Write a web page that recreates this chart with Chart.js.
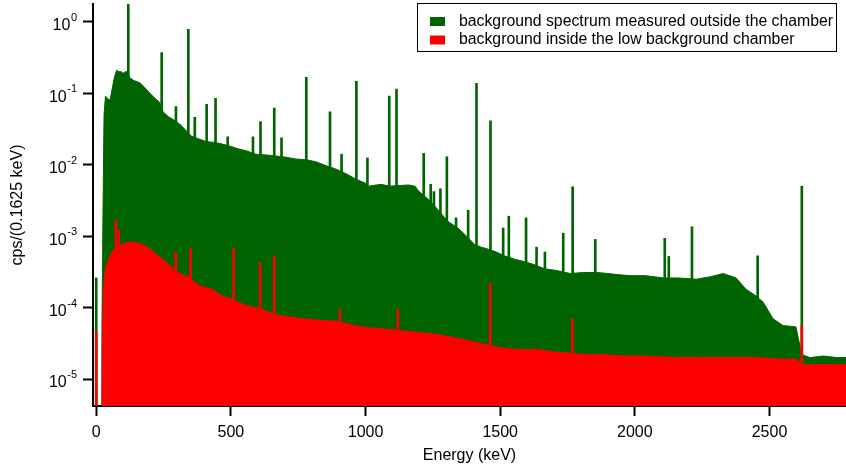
<!DOCTYPE html>
<html>
<head>
<meta charset="utf-8">
<script src="https://cdn.jsdelivr.net/npm/chart.js@4.4.0/dist/chart.umd.min.js"></script>
<style>
  body { margin: 0; background: #fff; }
  #wrap { width: 846px; height: 468px; }
</style>
</head>
<body>
<div id="wrap"><canvas id="spectrumChart" width="846" height="468"></canvas></div>
<script>
// continuum outside the chamber (keV, cps per channel)
const outsideEnergy = [20, 21, 25, 29, 34, 40, 47, 52, 60, 68, 76, 84, 92, 100, 110, 118, 124, 140, 162, 180,
    199, 218, 236, 243, 250, 268, 285, 310, 330, 354, 380, 409, 440, 469, 500, 531, 560, 593, 630, 667,
    700, 741, 780, 815, 850, 889, 930, 963, 1000, 1011, 1040, 1059, 1090, 1122, 1160, 1184, 1196, 1220, 1244, 1275,
    1306, 1343, 1375, 1406, 1430, 1454, 1485, 1516, 1550, 1590, 1625, 1664, 1710, 1760, 1810, 1860, 1900, 1934, 1982, 2040,
    2107, 2160, 2229, 2280, 2328, 2376, 2413, 2445, 2476, 2513, 2550, 2598, 2620, 2650, 2700, 2750, 2784];
const outsideCps = [4.3e-6, 4e-5, 2e-3, 0.05, 0.09, 0.087, 0.08, 0.083, 0.12, 0.17, 0.21, 0.2, 0.2, 0.19, 0.2, 0.2, 0.165, 0.15, 0.14, 0.12,
    0.10, 0.085, 0.074, 0.06, 0.054, 0.047, 0.043, 0.037, 0.031, 0.025, 0.023, 0.021, 0.0205, 0.0194, 0.018, 0.0165, 0.0155, 0.014, 0.0137, 0.0132,
    0.0128, 0.012, 0.0117, 0.011, 0.0098, 0.0087, 0.0074, 0.0063, 0.0055, 0.005, 0.0052, 0.0053, 0.005, 0.0051, 0.0052, 0.005, 0.0043, 0.0036, 0.003, 0.0022,
    0.0016, 0.0013, 0.001, 0.00076, 0.0007, 0.00066, 0.0006, 0.00053, 0.00048, 0.00044, 0.0004, 0.00035, 0.00033, 0.0003, 0.00031, 0.00031, 0.0003, 0.00029, 0.00028, 0.00028,
    0.00026, 0.00026, 0.00025, 0.00027, 0.0003, 0.00026, 0.00018, 0.00015, 0.00012, 0.00007, 0.000056, 0.000054, 0.000022, 0.00002, 0.000021, 0.00002, 0.00002];

// continuum inside the low background chamber
const insideEnergy = [21, 23, 27, 32, 37, 44, 52, 62, 75, 89, 105, 125, 145, 162, 180, 199, 218, 236, 255, 273,
    290, 310, 330, 347, 365, 384, 410, 432, 460, 494, 525, 557, 590, 616, 645, 679, 720, 764, 800, 838,
    880, 926, 970, 1022, 1080, 1147, 1200, 1269, 1330, 1391, 1450, 1516, 1580, 1638, 1700, 1760, 1820, 1886, 1950, 2050,
    2150, 2250, 2350, 2450, 2550, 2600, 2620, 2700, 2784];
const insideCps = [4.3e-6, 3e-5, 0.00018, 0.0003, 0.00038, 0.00045, 0.00054, 0.00062, 0.0007, 0.00074, 0.0008, 0.00083, 0.00081, 0.00079, 0.00073, 0.00067, 0.00058, 0.00051, 0.00045, 0.00039,
    0.00034, 0.0003, 0.00028, 0.00026, 0.00023, 0.0002, 0.00019, 0.00018, 0.00015, 0.000135, 0.00012, 0.000107, 0.0001, 0.000095, 0.000085, 0.000078, 0.000074, 0.00007, 0.000068, 0.000066,
    0.000065, 0.00006, 0.000055, 0.000052, 0.00005, 0.000047, 0.000045, 0.000042, 0.000038, 0.000034, 0.00003, 0.000027, 0.000026, 0.000026, 0.000024, 0.000023, 0.000022, 0.000022, 0.000021, 0.000021,
    0.00002, 0.00002, 0.00002, 0.00002, 0.000019, 0.000019, 0.000016, 0.000016, 0.000016];

// gamma lines sticking out of the continuum
const outsidePeakEnergy = [0, 119, 243, 296, 342, 366, 410, 443, 488, 582, 610, 661, 688, 780, 868, 911, 966, 1007, 1088, 1115,
    1216, 1242, 1254, 1278, 1302, 1336, 1381, 1412, 1464, 1511, 1532, 1596, 1635, 1666, 1734, 1769, 1853, 2111, 2126, 2212,
    2456, 2620];
const outsidePeakCps = [0.00026, 1.9, 0.37, 0.065, 0.78, 0.046, 0.07, 0.085, 0.0245, 0.0245, 0.04, 0.062, 0.0237, 0.167, 0.055, 0.014, 0.146, 0.0124, 0.091, 0.114,
    0.0144, 0.0053, 0.0042, 0.0046, 0.0129, 0.0018, 0.0023, 0.137, 0.041, 0.0013, 0.0019, 0.0018, 0.0007, 0.0006, 0.0011, 0.0049, 0.0009, 0.00093, 0.00052, 0.00135,
    0.00053, 0.005];
const insidePeakEnergy = [0, 73, 84, 295, 350, 510, 609, 661, 905, 1120, 1463, 1768, 2620];
const insidePeakCps = [0.000046, 0.00166, 0.0012, 0.0006, 0.00068, 0.00068, 0.00043, 0.00053, 0.000095, 0.000095, 0.00022, 0.00007, 0.000056];

const xTickValues = [0, 500, 1000, 1500, 2000, 2500];
const yTickValues = [1e-5, 1e-4, 1e-3, 1e-2, 1e-1, 1];

const xMin = -12, xMax = 2784;
const yMin = 4.2e-6, yMax = 1.77;

const FONT = "'Liberation Sans', Arial, sans-serif";
const GREEN = '#006400';
const RED = '#ff0000';

function toPoints(xs, ys) {
    return xs.map((x, i) => ({ x: x, y: ys[i] }));
}
function toSticks(xs, ys) {
    return xs.map((x, i) => ({ x: x, y: [yMin, ys[i]] }));
}

// y labels as 10 with a raised exponent
const powerLabels = {
    id: 'powerLabels',
    afterDraw(chart) {
        const ctx = chart.ctx;
        const yScale = chart.scales.y;
        const right = 77;
        ctx.save();
        ctx.fillStyle = '#000';
        ctx.textBaseline = 'middle';
        ctx.textAlign = 'right';
        yTickValues.forEach(v => {
            const y = yScale.getPixelForValue(v);
            const exp = String(Math.round(Math.log10(v)));
            ctx.font = '11px ' + FONT;
            ctx.fillText(exp, right, y - 4);
            const w = ctx.measureText(exp).width;
            ctx.font = '16px ' + FONT;
            ctx.fillText('10', right - w - 0.5, y + 4);
        });
        ctx.restore();
    }
};

// boxed legend in the top right corner
const boxLegend = {
    id: 'boxLegend',
    afterDraw(chart) {
        const ctx = chart.ctx;
        const entries = [chart.data.datasets[0], chart.data.datasets[2]];
        ctx.save();
        ctx.fillStyle = '#fff';
        ctx.fillRect(417, 3, 420, 49);
        ctx.strokeStyle = '#000';
        ctx.lineWidth = 1;
        ctx.strokeRect(417.5, 3.5, 419, 48);
        ctx.font = '15.8px ' + FONT;
        ctx.textBaseline = 'middle';
        ctx.textAlign = 'left';
        entries.forEach((ds, i) => {
            const y = 21.5 + i * 18.5;
            ctx.fillStyle = ds.backgroundColor;
            ctx.fillRect(430, y - 4.5, 15, 9);
            ctx.fillStyle = '#000';
            ctx.fillText(ds.label, 459, y);
        });
        ctx.restore();
    }
};

const ctxSpectrum = document.getElementById('spectrumChart').getContext('2d');
new Chart(ctxSpectrum, {
    type: 'line',
    data: {
        datasets: [{
            label: 'background spectrum measured outside the chamber',
            data: toPoints(outsideEnergy, outsideCps),
            borderColor: GREEN,
            backgroundColor: GREEN,
            borderWidth: 1,
            pointRadius: 0,
            tension: 0,
            fill: 'start',
            order: 4
        }, {
            type: 'bar',
            label: 'outside lines',
            data: toSticks(outsidePeakEnergy, outsidePeakCps),
            backgroundColor: GREEN,
            barThickness: 2,
            grouped: false,
            order: 3
        }, {
            label: 'background inside the low background chamber',
            data: toPoints(insideEnergy, insideCps),
            borderColor: RED,
            backgroundColor: RED,
            borderWidth: 1,
            pointRadius: 0,
            tension: 0,
            fill: 'start',
            order: 2
        }, {
            type: 'bar',
            label: 'inside lines',
            data: toSticks(insidePeakEnergy, insidePeakCps),
            backgroundColor: RED,
            barThickness: 2,
            grouped: false,
            order: 1
        }]
    },
    options: {
        responsive: false,
        animation: false,
        events: [],
        devicePixelRatio: 1,
        layout: { padding: { top: 4, right: 0, bottom: 0, left: 0 } },
        plugins: {
            legend: { display: false },
            tooltip: { enabled: false }
        },
        scales: {
            x: {
                type: 'linear',
                min: xMin,
                max: xMax,
                offset: false,
                afterBuildTicks: scale => { scale.ticks = xTickValues.map(v => ({ value: v })); },
                afterFit: scale => { scale.height = 62; },
                grid: { offset: false, drawOnChartArea: false, drawTicks: true, tickLength: 10, tickWidth: 2, tickColor: '#000' },
                border: { display: true, color: '#000', width: 2 },
                ticks: { color: '#000', font: { size: 16, family: FONT }, padding: 7, maxRotation: 0, callback: v => String(v) },
                title: { display: true, text: 'Energy (keV)', color: '#000', font: { size: 16, family: FONT }, padding: { top: 0, bottom: 3 } }
            },
            y: {
                type: 'logarithmic',
                min: yMin,
                max: yMax,
                afterBuildTicks: scale => { scale.ticks = yTickValues.map(v => ({ value: v })); },
                afterFit: scale => { scale.width = 93; },
                grid: { offset: false, drawOnChartArea: false, drawTicks: true, tickLength: 10, tickWidth: 2, tickColor: '#000' },
                border: { display: true, color: '#000', width: 2 },
                ticks: { display: false },
                title: { display: true, text: 'cps/(0.1625 keV)', color: '#000', font: { size: 16, family: FONT }, padding: { top: 8, bottom: 0 } }
            }
        }
    },
    plugins: [powerLabels, boxLegend]
});
</script>
</body>
</html>
